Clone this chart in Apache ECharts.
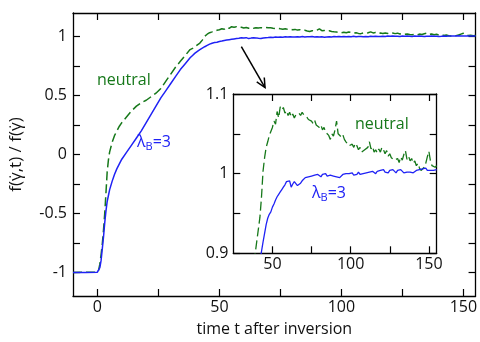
<!DOCTYPE html>
<html>
<head>
<meta charset="utf-8">
<script src="https://cdn.jsdelivr.net/npm/echarts@6/dist/echarts.min.js"></script>
<style>
  html, body { margin: 0; padding: 0; background: #fff; }
  #chart { width: 480px; height: 342px; }
</style>
</head>
<body>
<div id="chart"></div>
<script>
// time axis (shared by both curves)
var time = [-10, -5, 0, 0.5, 1, 1.5, 2, 2.5, 3, 3.5, 4, 4.5, 5, 6, 7, 8, 9, 10, 12, 14, 16, 18, 20, 22, 24, 26, 28, 30, 32, 34, 36, 38, 39, 40, 41, 42,
  43, 44, 45, 46, 47, 48, 49, 50, 51, 52, 53, 54, 55, 56, 57, 58, 59, 60, 61, 62, 63, 64, 65, 66, 67, 68, 69, 70,
  71, 72, 73, 74, 75, 76, 77, 78, 79, 80, 81, 82, 83, 84, 85, 86, 87, 88, 89, 90, 91, 92, 93, 94, 95, 96, 97, 98, 99, 100,
  101, 102, 103, 104, 105, 106, 107, 108, 109, 110, 111, 112, 113, 114, 115, 116, 117, 118, 119, 120, 121, 122, 123, 124, 125,
  126, 127, 128, 129, 130, 131, 132, 133, 134, 135, 136, 137, 138, 139, 140, 141, 142, 143, 144, 145, 146, 147, 148, 149, 150,
  151, 152, 153, 154, 155];

// neutral (green dashed)
var neutral = [-1, -0.999, -0.998, -0.98, -0.93, -0.85, -0.76, -0.64, -0.5, -0.33, -0.15, -0.05, 0.02, 0.1, 0.16, 0.2, 0.24, 0.27, 0.32, 0.37, 0.41, 0.44, 0.46, 0.49, 0.52, 0.56, 0.62, 0.68, 0.74, 0.79, 0.84, 0.89, 0.9, 0.915, 0.93, 0.945,
  0.97, 1.003, 1.02, 1.033, 1.04, 1.048, 1.053, 1.058, 1.066, 1.062, 1.078, 1.07, 1.084, 1.08, 1.083, 1.076, 1.079, 1.073, 1.077, 1.071, 1.075, 1.07, 1.074, 1.072, 1.076, 1.073, 1.077, 1.074,
  1.075, 1.071, 1.068, 1.07, 1.066, 1.063, 1.067, 1.061, 1.063, 1.058, 1.061, 1.055, 1.058, 1.052, 1.054, 1.048, 1.043, 1.05, 1.047, 1.055, 1.066, 1.05, 1.052, 1.046, 1.049, 1.043, 1.04, 1.038, 1.035, 1.033,
  1.037, 1.033, 1.038, 1.035, 1.03, 1.033, 1.027, 1.025, 1.03, 1.028, 1.033, 1.04, 1.031, 1.034, 1.027, 1.03, 1.026, 1.031, 1.027, 1.033, 1.03, 1.025, 1.029, 1.022, 1.025,
  1.02, 1.022, 1.017, 1.015, 1.019, 1.014, 1.021, 1.017, 1.024, 1.029, 1.018, 1.022, 1.016, 1.019, 1.013, 1.016, 1.01, 1.013, 1.007, 1.004, 1.002, 1.008, 1.013, 1.021, 1.028,
  1.016, 1.01, 1.012, 1.008, 1.01];

// lambda_B = 3 (blue solid)
var lambdaB3 = [-1, -1.001, -0.998, -0.99, -0.96, -0.9, -0.8, -0.7, -0.58, -0.48, -0.4, -0.35, -0.3, -0.23, -0.17, -0.12, -0.08, -0.04, 0.02, 0.08, 0.14, 0.2, 0.27, 0.34, 0.41, 0.48, 0.54, 0.6, 0.66, 0.72, 0.77, 0.82, 0.84, 0.86, 0.875, 0.89,
  0.902, 0.914, 0.925, 0.936, 0.944, 0.949, 0.952, 0.958, 0.962, 0.967, 0.971, 0.974, 0.977, 0.98, 0.983, 0.986, 0.99, 0.988, 0.991, 0.983, 0.987, 0.99, 0.989, 0.985, 0.983, 0.988, 0.991, 0.992,
  0.995, 0.993, 0.996, 0.994, 0.997, 0.995, 0.998, 0.996, 0.999, 0.997, 0.996, 0.999, 0.997, 1.0, 0.997, 0.999, 0.998, 1.0, 0.997, 0.999, 0.996, 0.998, 0.995, 0.997, 0.999, 0.997, 1.0, 0.998, 1.0, 0.999,
  1.001, 0.998, 1.0, 0.999, 1.002, 0.999, 1.001, 1.0, 0.998, 1.001, 0.999, 1.002, 1.0, 1.003, 1.001, 1.0, 1.003, 1.001, 1.004, 1.002, 1.005, 1.002, 1.003, 1.001, 1.004,
  1.002, 1.005, 1.003, 1.001, 1.004, 1.002, 1.005, 1.003, 1.001, 1.003, 1.002, 1.004, 1.002, 1.003, 1.001, 1.002, 1.004, 1.003, 1.005, 1.004, 1.006, 1.005, 1.007, 1.004, 1.006,
  1.004, 1.005, 1.004, 1.006, 1.005];

// tick positions / labels
var mainXTicks = [0, 25, 50, 75, 100, 125, 150];
var mainXLabels = [0, 50, 100, 150];
var mainYTicks = [-1, -0.75, -0.5, -0.25, 0, 0.25, 0.5, 0.75, 1];
var mainYLabels = [-1, -0.5, 0, 0.5, 1];
var insetXTicks = [50, 75, 100, 125, 150];
var insetXLabels = [50, 100, 150];
var insetYTicks = [0.9, 0.95, 1, 1.05, 1.1];
var insetYLabels = [0.9, 1, 1.1];

var GREEN = '#16781a';
var BLUE = '#1f22f5';
var FONT = 'Open Sans';

var neutralData = time.map(function (t, i) { return [t, neutral[i]]; });
var lambdaData = time.map(function (t, i) { return [t, lambdaB3[i]]; });

function makeAxis(opt) {
  var a = {
    type: 'value',
    gridIndex: opt.grid,
    position: opt.position,
    min: opt.min,
    max: opt.max,
    axisLine: { show: true, onZero: false, lineStyle: { color: '#000', width: 1.3 } },
    axisTick: { show: true, inside: true, length: 7, customValues: opt.ticks, lineStyle: { color: '#000', width: 1.2 } },
    axisLabel: opt.labels ? {
      show: true, customValues: opt.labels, margin: opt.margin,
      color: '#111', fontSize: 16, fontFamily: FONT
    } : { show: false },
    splitLine: { show: false }
  };
  if (opt.name) {
    a.name = opt.name;
    a.nameLocation = 'middle';
    a.nameGap = opt.nameGap;
    a.nameTextStyle = { color: '#111', fontSize: opt.nameSize || 16, fontFamily: FONT };
  }
  return a;
}

var myChart = echarts.init(document.getElementById('chart'));
var option = {
  animation: false,
  backgroundColor: '#fff',
  grid: [
    { left: 70, top: 13, right: 3.5, bottom: 44, containLabel: false },
    { left: 233.3, top: 94, width: 203.4, height: 159.3, show: true, backgroundColor: '#fff', borderWidth: 0 }
  ],
  xAxis: [
    makeAxis({ grid: 0, position: 'bottom', min: -10, max: 155, ticks: mainXTicks, labels: mainXLabels, margin: 3,
      name: 'time t after inversion', nameGap: 25 }),
    makeAxis({ grid: 0, position: 'top', min: -10, max: 155, ticks: mainXTicks }),
    makeAxis({ grid: 1, position: 'bottom', min: 25, max: 155, ticks: insetXTicks, labels: insetXLabels, margin: 3 }),
    makeAxis({ grid: 1, position: 'top', min: 25, max: 155, ticks: insetXTicks })
  ],
  yAxis: [
    makeAxis({ grid: 0, position: 'left', min: -1.2, max: 1.2, ticks: mainYTicks, labels: mainYLabels, margin: 6,
      name: 'f(γ̇,t) / f(γ̇)', nameGap: 48, nameSize: 17 }),
    makeAxis({ grid: 0, position: 'right', min: -1.2, max: 1.2, ticks: mainYTicks }),
    makeAxis({ grid: 1, position: 'left', min: 0.9, max: 1.1, ticks: insetYTicks, labels: insetYLabels, margin: 5 }),
    makeAxis({ grid: 1, position: 'right', min: 0.9, max: 1.1, ticks: insetYTicks })
  ],
  series: [
    {
      name: 'neutral', type: 'line', xAxisIndex: 0, yAxisIndex: 0, showSymbol: false, symbol: 'none',
      lineStyle: { color: GREEN, width: 1.5, type: [9, 4] }, data: neutralData
    },
    {
      name: 'λB=3', type: 'line', xAxisIndex: 0, yAxisIndex: 0, showSymbol: false, symbol: 'none',
      lineStyle: { color: BLUE, width: 1.5 }, data: lambdaData
    },
    {
      name: 'neutral inset', type: 'line', xAxisIndex: 2, yAxisIndex: 2, showSymbol: false, symbol: 'none', clip: true,
      lineStyle: { color: GREEN, width: 1.3, type: [9, 4] }, data: neutralData
    },
    {
      name: 'λB=3 inset', type: 'line', xAxisIndex: 2, yAxisIndex: 2, showSymbol: false, symbol: 'none', clip: true,
      lineStyle: { color: BLUE, width: 1.3 }, data: lambdaData
    }
  ]
};
myChart.setOption(option);

// arrow from the plateau of the main curves towards the inset
var p0 = myChart.convertToPixel({ gridIndex: 0 }, [59, 0.915]);
var p1 = myChart.convertToPixel({ gridIndex: 0 }, [68.7, 0.568]);
var ang = Math.atan2(p1[1] - p0[1], p1[0] - p0[0]);
var hl = 10, ha = 0.45;
var h1 = [p1[0] - hl * Math.cos(ang - ha), p1[1] - hl * Math.sin(ang - ha)];
var h2 = [p1[0] - hl * Math.cos(ang + ha), p1[1] - hl * Math.sin(ang + ha)];

var labelRich = {
  a: { fontSize: 16, fontFamily: FONT, fill: BLUE },
  b: { fontSize: 11, fontFamily: FONT, fill: BLUE, padding: [8, 0, 0, 0] }
};

myChart.setOption({
  graphic: [
    { type: 'line', shape: { x1: p0[0], y1: p0[1], x2: p1[0], y2: p1[1] }, style: { stroke: '#000', lineWidth: 1.5 }, z: 100 },
    { type: 'polyline', shape: { points: [h1, p1, h2] }, style: { stroke: '#000', lineWidth: 1.5, fill: null }, z: 100 },
    { type: 'text', x: 97, y: 72, style: { text: 'neutral', fontSize: 16, fontFamily: FONT, fill: GREEN }, z: 100 },
    { type: 'text', x: 355, y: 116, style: { text: 'neutral', fontSize: 16, fontFamily: FONT, fill: GREEN }, z: 100 },
    { type: 'text', x: 137, y: 133, style: { text: '{a|λ}{b|B}{a|=3}', rich: labelRich, fill: BLUE }, z: 100 },
    { type: 'text', x: 312, y: 184, style: { text: '{a|λ}{b|B}{a|=3}', rich: labelRich, fill: BLUE }, z: 100 }
  ]
});

window.addEventListener('resize', function () {
  myChart.resize();
});
</script>
</body>
</html>
